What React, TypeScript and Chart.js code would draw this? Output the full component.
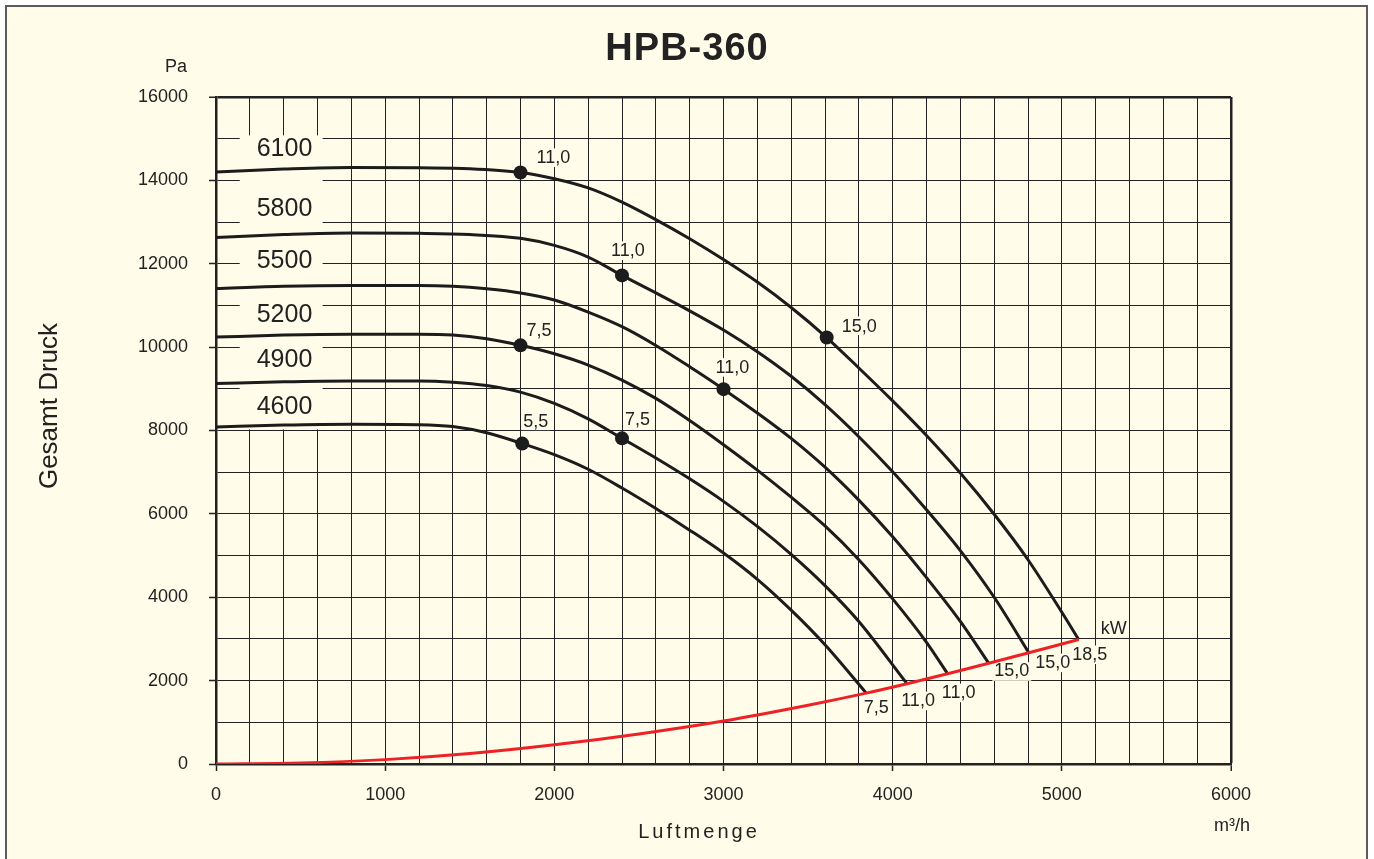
import React, { useEffect, useRef } from 'react';
import { Chart, registerables } from 'chart.js';

Chart.register(...registerables);

// ---------- texts ----------
const chartTitle = 'HPB-360';
const xTitle = 'Luftmenge';
const yTitle = 'Gesamt Druck';
const xUnit = 'm³/h';
const yUnit = 'Pa';
const powerUnit = 'kW';

// ---------- axes ----------
const xMin = 0;
const xMax = 6000;
const xGridStep = 200;
const xLabelStep = 1000;
const yMin = 0;
const yMax = 16000;
const yGridStep = 1000;
const yLabelStep = 2000;

// ---------- fan curves (speed, flow m³/h, total pressure Pa) ----------
const speedLabels = ['6100', '5800', '5500', '5200', '4900', '4600'];

const flow6100 = [0, 400, 800, 1200, 1500, 1800, 2000, 2200, 2400, 2600, 2800, 3000, 3200, 3400, 3610, 3800, 4000, 4200, 4400, 4600, 4800, 5000, 5100];
const pressure6100 = [14200, 14270, 14310, 14300, 14280, 14190, 14040, 13820, 13480, 13060, 12600, 12100, 11560, 10950, 10230, 9500, 8710, 7880, 6980, 5990, 4900, 3640, 2985];

const flow5800 = [0, 400, 800, 1200, 1500, 1800, 2000, 2200, 2400, 2600, 2800, 3000, 3200, 3400, 3600, 3800, 4000, 4200, 4400, 4600, 4805];
const pressure5800 = [12630, 12700, 12740, 12730, 12700, 12610, 12440, 12160, 11720, 11300, 10870, 10410, 9890, 9300, 8620, 7850, 7010, 6100, 5120, 4000, 2670];

const flow5500 = [0, 400, 800, 1200, 1400, 1600, 1800, 2000, 2200, 2400, 2600, 2800, 3000, 3200, 3400, 3600, 3800, 4000, 4200, 4400, 4568];
const pressure5500 = [11405, 11460, 11480, 11480, 11460, 11400, 11300, 11130, 10840, 10490, 10040, 9530, 8992, 8420, 7810, 7120, 6330, 5450, 4470, 3420, 2415];

const flow5200 = [0, 400, 800, 1200, 1400, 1600, 1800, 2000, 2200, 2400, 2600, 2800, 3000, 3200, 3400, 3600, 3800, 4000, 4200, 4325];
const pressure5200 = [10240, 10290, 10310, 10310, 10290, 10200, 10043, 9840, 9570, 9210, 8770, 8240, 7660, 7050, 6400, 5710, 4900, 3960, 2920, 2165];

const flow4900 = [0, 400, 800, 1200, 1400, 1600, 1800, 2000, 2200, 2400, 2600, 2800, 3000, 3200, 3400, 3600, 3800, 4085];
const pressure4900 = [9125, 9170, 9190, 9190, 9160, 9080, 8920, 8650, 8280, 7812, 7340, 6840, 6300, 5700, 5030, 4280, 3420, 1925];

const flow4600 = [0, 400, 800, 1200, 1400, 1600, 1810, 2000, 2200, 2400, 2600, 2800, 3000, 3200, 3400, 3600, 3844];
const pressure4600 = [8085, 8130, 8150, 8140, 8095, 7945, 7686, 7420, 7070, 6620, 6130, 5610, 5060, 4430, 3690, 2860, 1700];

// motor power at the end of each curve (kW), same order as speedLabels
const endPower = ['18,5', '15,0', '15,0', '11,0', '11,0', '7,5'];

// ---------- system / limit line (red) ----------
const systemFlow = [0, 500, 1000, 1500, 2000, 2500, 3000, 3500, 3844, 4085, 4325, 4568, 4805, 5100];
const systemPressure = [0, 25, 105, 250, 460, 720, 1030, 1410, 1700, 1925, 2165, 2415, 2670, 2985];

// ---------- motor change points ----------
const dotFlow = [1800, 3610, 2400, 3000, 1800, 2400, 1810];
const dotPressure = [14190, 10230, 11720, 8992, 10043, 7812, 7686];
const dotPower = ['11,0', '15,0', '11,0', '11,0', '7,5', '7,5', '5,5'];

// ---------- layout / style (pixels) ----------
const FONT = '"Liberation Sans", Arial, Helvetica, sans-serif';
const BG = '#FFFDEA';
const INK = '#222222';
const CURVE = '#1c1c1c';
const RED = '#EE2226';
const speedLabelShift = [-23, -28, -27, -22, -23, -20];
const speedLabelFlow = 405;
const speedMaskFlow = [140, 630];
const speedMaskPressure = [15080, 8025];
const dotLabelOffset = [[16, -9], [15, -6], [-11, -19], [-8, -16], [6, -9], [3, -13], [1, -17]];
const endLabelOffset = [[11, 15], [24, 10], [23, 8], [11, 19], [11, 17], [10, 15]];
const kwOffset = [35, -11];

const curveFlows = [flow6100, flow5800, flow5500, flow5200, flow4900, flow4600];
const curvePressures = [pressure6100, pressure5800, pressure5500, pressure5200, pressure4900, pressure4600];

type TextItem = {
  text: string;
  x: number;
  y: number;
  size: number;
  align: CanvasTextAlign;
  baseline: CanvasTextBaseline;
  mask?: boolean;
};

function plotTexts(chart: any): TextItem[] {
  const xs = chart.scales.x;
  const ys = chart.scales.y;
  const items: TextItem[] = [];
  speedLabels.forEach((lab, i) => {
    items.push({
      text: lab,
      x: xs.getPixelForValue(speedLabelFlow),
      y: ys.getPixelForValue(curvePressures[i][0]) + speedLabelShift[i],
      size: 25,
      align: 'center',
      baseline: 'middle',
    });
  });
  dotPower.forEach((lab, i) => {
    items.push({
      text: lab,
      x: xs.getPixelForValue(dotFlow[i]) + dotLabelOffset[i][0],
      y: ys.getPixelForValue(dotPressure[i]) + dotLabelOffset[i][1],
      size: 18,
      align: 'left',
      baseline: 'alphabetic',
      mask: true,
    });
  });
  endPower.forEach((lab, i) => {
    const f = curveFlows[i];
    const p = curvePressures[i];
    items.push({
      text: lab,
      x: xs.getPixelForValue(f[f.length - 1]) + endLabelOffset[i][0],
      y: ys.getPixelForValue(p[p.length - 1]) + endLabelOffset[i][1],
      size: 18,
      align: 'center',
      baseline: 'middle',
      mask: true,
    });
  });
  const f0 = curveFlows[0];
  const p0 = curvePressures[0];
  items.push({
    text: powerUnit,
    x: xs.getPixelForValue(f0[f0.length - 1]) + kwOffset[0],
    y: ys.getPixelForValue(p0[p0.length - 1]) + kwOffset[1],
    size: 18,
    align: 'center',
    baseline: 'middle',
  });
  return items;
}

function maskRect(ctx: CanvasRenderingContext2D, it: TextItem) {
  ctx.font = `${it.size}px ${FONT}`;
  const w = ctx.measureText(it.text).width;
  let left = it.x;
  if (it.align === 'center') left = it.x - w / 2;
  else if (it.align === 'right') left = it.x - w;
  let top: number;
  if (it.baseline === 'middle') top = it.y - it.size * 0.45;
  else top = it.y - it.size * 0.78;
  ctx.fillRect(left - 2, top - 1, w + 4, it.size * 0.92 + 2);
}

function drawItem(ctx: CanvasRenderingContext2D, it: TextItem) {
  ctx.font = `${it.size}px ${FONT}`;
  ctx.textAlign = it.align;
  ctx.textBaseline = it.baseline;
  ctx.fillStyle = INK;
  ctx.fillText(it.text, it.x, it.y);
}

const decorPlugin = {
  id: 'decor',
  beforeDraw(chart: any) {
    const { ctx, width, height } = chart;
    ctx.save();
    ctx.fillStyle = '#ffffff';
    ctx.fillRect(0, 0, width, height);
    ctx.fillStyle = BG;
    ctx.fillRect(6, 6, 1361, height);
    ctx.strokeStyle = '#5c5c5c';
    ctx.lineWidth = 2;
    ctx.strokeRect(6, 6, 1361, height + 20);
    ctx.restore();
  },
  beforeDatasetsDraw(chart: any) {
    const { ctx } = chart;
    const xs = chart.scales.x;
    const ys = chart.scales.y;
    ctx.save();
    ctx.fillStyle = BG;
    const l = xs.getPixelForValue(speedMaskFlow[0]);
    const r = xs.getPixelForValue(speedMaskFlow[1]);
    const t = ys.getPixelForValue(speedMaskPressure[0]);
    const b = ys.getPixelForValue(speedMaskPressure[1]);
    ctx.fillRect(l, t, r - l, b - t);
    plotTexts(chart).forEach((it) => {
      if (it.mask) maskRect(ctx, it);
    });
    ctx.restore();
  },
  afterDatasetsDraw(chart: any) {
    const { ctx } = chart;
    ctx.save();
    plotTexts(chart).forEach((it) => drawItem(ctx, it));
    ctx.restore();
  },
  afterDraw(chart: any) {
    const { ctx } = chart;
    const area = chart.chartArea;
    ctx.save();
    ctx.fillStyle = INK;
    // title
    ctx.font = `bold 38px ${FONT}`;
    (ctx as any).letterSpacing = '1px';
    ctx.textAlign = 'center';
    ctx.textBaseline = 'alphabetic';
    ctx.fillText(chartTitle, 687, 60);
    (ctx as any).letterSpacing = '0px';
    // y unit
    ctx.font = `18px ${FONT}`;
    ctx.textAlign = 'right';
    ctx.fillText(yUnit, area.left - 29, 72);
    // x unit
    ctx.textAlign = 'center';
    ctx.fillText(xUnit, area.right + 1, 831);
    // x title
    ctx.font = `20px ${FONT}`;
    (ctx as any).letterSpacing = '3px';
    ctx.fillText(xTitle, 699, 838);
    (ctx as any).letterSpacing = '0px';
    // y title
    ctx.save();
    ctx.translate(57, 406);
    ctx.rotate(-Math.PI / 2);
    ctx.font = `26px ${FONT}`;
    ctx.textAlign = 'center';
    ctx.textBaseline = 'alphabetic';
    ctx.fillText(yTitle, 0, 0);
    ctx.restore();
    ctx.restore();
  },
};

export default function App() {
  const canvasRef = useRef<HTMLCanvasElement | null>(null);

  useEffect(() => {
    if (!canvasRef.current) return;
    const curveSets = speedLabels.map((lab, i) => ({
      label: lab,
      data: curveFlows[i].map((x, k) => ({ x, y: curvePressures[i][k] })),
      borderColor: CURVE,
      borderWidth: 3,
      pointRadius: 0,
      fill: false,
      cubicInterpolationMode: 'monotone' as const,
    }));
    const chart = new Chart(canvasRef.current, {
      type: 'line',
      data: {
        datasets: [
          {
            label: 'Motor',
            data: dotFlow.map((x, k) => ({ x, y: dotPressure[k] })),
            showLine: false,
            pointRadius: 7,
            pointBackgroundColor: CURVE,
            pointBorderColor: CURVE,
            pointBorderWidth: 0,
          },
          {
            label: 'Limit',
            data: systemFlow.map((x, k) => ({ x, y: systemPressure[k] })),
            borderColor: RED,
            borderWidth: 3,
            pointRadius: 0,
            fill: false,
            cubicInterpolationMode: 'monotone' as const,
          },
          ...curveSets,
        ] as any,
      },
      options: {
        responsive: false,
        animation: false,
        events: [],
        layout: { padding: { top: 97, right: 143, bottom: 0, left: 0 } },
        plugins: {
          legend: { display: false },
          tooltip: { enabled: false },
          title: { display: false },
        },
        scales: {
          x: {
            type: 'linear',
            min: xMin,
            max: xMax,
            afterFit: (s: any) => {
              s.height = 95;
            },
            ticks: {
              stepSize: xGridStep,
              autoSkip: false,
              maxRotation: 0,
              minRotation: 0,
              padding: 13,
              color: INK,
              font: { family: FONT, size: 18 },
              callback: (v: any) => (Number(v) % xLabelStep === 0 ? String(v) : ''),
            },
            grid: {
              color: INK,
              lineWidth: (c: any) => (c.tick && c.tick.value === xMax ? 2.5 : 1),
              tickLength: 7,
              tickWidth: 1.5,
              tickColor: (c: any) =>
                c.tick && c.tick.value % xLabelStep === 0 ? INK : 'rgba(0,0,0,0)',
            },
            border: { display: true, color: INK, width: 2.5 },
          },
          y: {
            type: 'linear',
            min: yMin,
            max: yMax,
            afterFit: (s: any) => {
              s.width = 216;
            },
            ticks: {
              stepSize: yGridStep,
              autoSkip: false,
              padding: 21,
              color: INK,
              font: { family: FONT, size: 18 },
              callback: (v: any) => (Number(v) % yLabelStep === 0 ? String(v) : ''),
            },
            grid: {
              color: INK,
              lineWidth: (c: any) => (c.tick && c.tick.value === yMax ? 2.5 : 1),
              tickLength: 7,
              tickWidth: 1.5,
              tickColor: (c: any) =>
                c.tick && c.tick.value % yLabelStep === 0 ? INK : 'rgba(0,0,0,0)',
            },
            border: { display: true, color: INK, width: 2.5 },
          },
        },
      } as any,
      plugins: [decorPlugin],
    });
    return () => chart.destroy();
  }, []);

  return (
    <div style={{ position: 'absolute', left: 0, top: 0, width: 1374, height: 859, overflow: 'hidden' }}>
      <canvas ref={canvasRef} width={1374} height={859} style={{ display: 'block' }} />
    </div>
  );
}
